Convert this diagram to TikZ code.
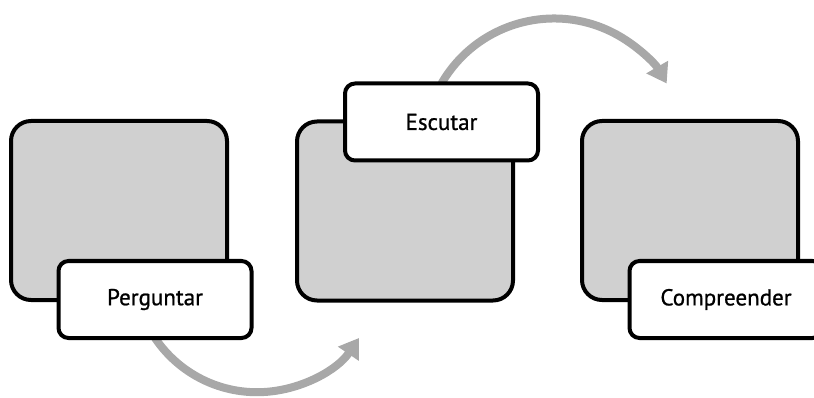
\documentclass[tikz,border=0pt]{standalone}
\usepackage{fontspec}
\setmainfont{PT Sans}
\newfontfamily\tagfont{PT Sans}[FakeBold=0.9]
\usetikzlibrary{arrows.meta,backgrounds}
\definecolor{panelgray}{HTML}{D0D0D0}
\definecolor{flowgray}{HTML}{A8A8A8}
\tikzset{
  panel/.style={draw=black, line width=4pt, fill=panelgray, rounded corners=20pt,
    minimum width=216pt, minimum height=179pt, inner sep=0pt, outer sep=0pt},
  tag/.style={draw=black, line width=4pt, fill=white, rounded corners=10pt,
    minimum width=193pt, minimum height=77pt, inner sep=0pt, outer sep=0pt,
    font=\tagfont\fontsize{23}{27}\selectfont},
  flow/.style={draw=flowgray, line width=8pt,
    -{Triangle[width=24pt,length=19pt]}}
}
\begin{document}
\begin{tikzpicture}[x=1pt,y=-1pt]
  \clip (0,0) rectangle (814,398);
  % panels with their labels
  \node[panel] (b1) at (119,210.5) {};
  \node[tag]   (p1) at (155,299.5) {Perguntar};
  \node[panel] (b2) at (405,211) {};
  \node[tag]   (p2) at (441.5,122) {Escutar};
  \node[panel] (b3) at (690,210.5) {};
  \node[tag]   (p3) at (726,299.5) {Compreender};
  % curved flow arrows, kept behind the labels
  \begin{scope}[on background layer]
    \draw[flow] (p1.south) arc[start angle=146, end angle=34, radius=123];
    \draw[flow] (p2.north) arc[start angle=210, end angle=330, radius=130];
  \end{scope}
\end{tikzpicture}
\end{document}
